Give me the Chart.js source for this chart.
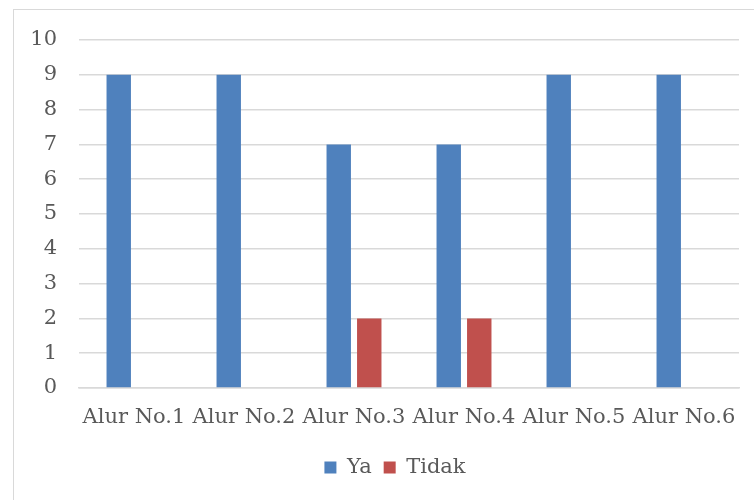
<!DOCTYPE html>
<html>
<head>
<meta charset="utf-8">
<script src="https://cdn.jsdelivr.net/npm/chart.js@4.4.0/dist/chart.umd.min.js"></script>
<style>
  html, body { margin: 0; padding: 0; background: #ffffff; }
  #wrap { position: relative; width: 754px; height: 500px; overflow: hidden; }
  #frame { position: absolute; left: 13px; top: 9px; width: 800px; height: 560px;
           border: 1px solid #d9d9d9; box-sizing: border-box; }
  #c { position: absolute; left: 0; top: 0; }
</style>
</head>
<body>
<div id="wrap">
  <div id="frame"></div>
  <canvas id="c" width="754" height="500"></canvas>
</div>
<script>
// Survey answers per flow
const categories = ['Alur No.1', 'Alur No.2', 'Alur No.3', 'Alur No.4', 'Alur No.5', 'Alur No.6'];
const yaValues = [9, 9, 7, 7, 9, 9];
const tidakValues = [0, 0, 2, 2, 0, 0];
const yTicks = [0, 1, 2, 3, 4, 5, 6, 7, 8, 9, 10];

const FONT = "'DejaVu Serif', 'Liberation Serif', serif";
const FONT_SIZE = 21;
const TEXT = '#595959';
const GRID = '#d9d9d9';

// Centre the legend under the wider chart frame rather than the canvas
const legendShift = {
  id: 'legendShift',
  afterLayout(chart) {
    if (chart.legend) { chart.legend.left += 51; }
  }
};

new Chart(document.getElementById('c'), {
  type: 'bar',
  data: {
    labels: categories,
    datasets: [
      { label: 'Ya', data: yaValues, backgroundColor: '#4f81bd', categoryPercentage: 0.555, barPercentage: 0.8 },
      { label: 'Tidak', data: tidakValues, backgroundColor: '#c0504d', categoryPercentage: 0.555, barPercentage: 0.8 }
    ]
  },
  plugins: [legendShift],
  options: {
    responsive: false,
    animation: false,
    layout: { padding: { top: 40, right: 15, bottom: 12, left: 0 } },
    plugins: {
      tooltip: { enabled: false },
      legend: {
        position: 'bottom',
        labels: {
          color: TEXT,
          font: { family: FONT, size: FONT_SIZE },
          boxWidth: 12,
          boxHeight: 12,
          padding: 12
        }
      }
    },
    scales: {
      x: {
        grid: { display: false, drawTicks: false },
        border: { display: true, color: GRID, width: 1.5 },
        ticks: { color: TEXT, font: { family: FONT, size: FONT_SIZE }, padding: 17, maxRotation: 0 },
        afterFit: (s) => { s.height = 57; }
      },
      y: {
        min: 0,
        max: 10,
        afterBuildTicks: (s) => { s.ticks = yTicks.map(v => ({ value: v })); },
        grid: { color: GRID, lineWidth: 1.5, drawTicks: false },
        border: { display: false },
        ticks: { color: TEXT, font: { family: FONT, size: FONT_SIZE }, padding: 22 },
        afterFit: (s) => { s.width = 79; }
      }
    }
  }
});
</script>
</body>
</html>
